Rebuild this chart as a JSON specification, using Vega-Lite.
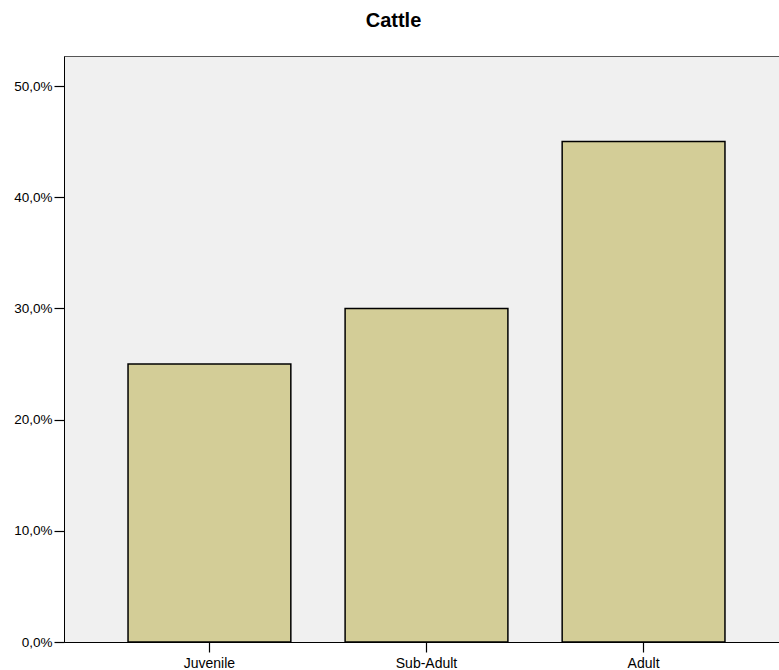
{
  "$schema": "https://vega.github.io/schema/vega-lite/v6.json",
  "autosize": "none",
  "width": 725,
  "height": 586,
  "padding": {"left": 64, "top": 56, "right": 0, "bottom": 28},
  "background": "white",
  "title": {"text": "Cattle", "font": "Liberation Sans", "fontSize": 20, "fontWeight": "bold", "color": "black", "anchor": "middle", "offset": 25, "dx": -33},
  "config": {
    "view": {"fill": "#f0f0f0", "stroke": "#555555", "strokeWidth": 1},
    "axis": {"labelFont": "Liberation Sans", "labelColor": "black", "domainColor": "black", "tickColor": "black", "grid": false, "title": null, "tickSize": 10, "domainWidth": 1, "tickWidth": 1.2}
  },
  "data": {"values": [
    {"age": "Juvenile", "pct": 25},
    {"age": "Sub-Adult", "pct": 30},
    {"age": "Adult", "pct": 45}
  ]},
  "mark": {"type": "bar", "fill": "#d3cd97", "stroke": "black", "strokeWidth": 1.5},
  "encoding": {
    "x": {"field": "age", "type": "nominal", "sort": ["Juvenile", "Sub-Adult", "Adult"],
      "scale": {"paddingInner": 0.25, "paddingOuter": 0.295},
      "axis": {"labelAngle": 0, "labelPadding": 4, "labelFontSize": 14}},
    "y": {"field": "pct", "type": "quantitative",
      "scale": {"domain": [0, 52.7], "nice": false},
      "axis": {"values": [0, 10, 20, 30, 40, 50], "labelPadding": 2, "labelFontSize": 13.5, "labelExpr": "replace(format(datum.value, '.1f'), '.', ',') + '%'"}}
  }
}
